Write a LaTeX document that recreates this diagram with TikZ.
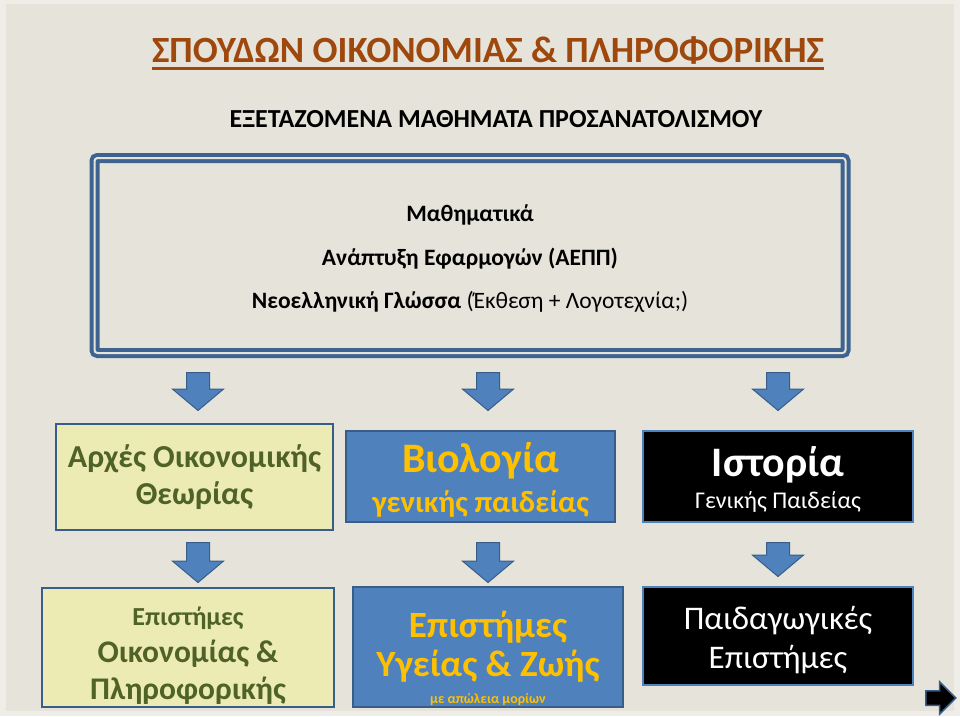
\documentclass[tikz,border=0pt]{standalone}
\usepackage{fontspec}
\setmainfont{Carlito}
\usetikzlibrary{positioning,shapes.arrows}
\definecolor{PageBg}{RGB}{230,228,218}
\definecolor{PageEdge}{RGB}{238,237,231}
\definecolor{TitleBrown}{RGB}{158,72,14}
\definecolor{FrameBlue}{RGB}{63,99,144}
\definecolor{BoxEdge}{RGB}{56,93,138}
\definecolor{BoxBlue}{RGB}{79,129,189}
\definecolor{BoxYellow}{RGB}{236,235,180}
\definecolor{OliveText}{RGB}{79,98,40}
\definecolor{GoldText}{RGB}{255,192,0}

\newcommand{\fs}[2]{\fontsize{#1}{#2}\selectfont}
\newcommand{\lift}[1]{\rule{0pt}{#1}}
\newsavebox{\ulbox}
\newcommand{\titleul}[1]{\sbox{\ulbox}{#1}\rlap{\rule[-7.5pt]{\wd\ulbox}{3pt}}\usebox{\ulbox}}

\begin{document}
\begin{tikzpicture}[
  x=1pt, y=-1pt,
  frame/.style={
    rectangle,
    rounded corners=3pt,
    draw=FrameBlue,
    double=PageBg,
    line width=4pt,
    double distance=2pt,
    align=center,
    inner sep=0pt
  },
  course/.style={
    rectangle,
    draw=BoxEdge,
    line width=2.5pt,
    align=center,
    inner sep=0pt
  },
  econ/.style={course, fill=BoxYellow, text=OliveText},
  bio/.style={course, fill=BoxBlue, text=GoldText},
  hist/.style={course, draw=BoxBlue, fill=black, text=white},
  down/.style={
    single arrow,
    shape border rotate=270,
    anchor=tail,
    draw=BoxEdge,
    fill=BoxBlue,
    line width=1pt,
    minimum width=50pt,
    minimum height=38pt,
    single arrow head extend=14pt,
    single arrow tip angle=100,
    inner xsep=11pt,
    inner ysep=2pt
  },
  navarrow/.style={
    single arrow,
    anchor=tail,
    draw=BoxEdge,
    fill=black,
    line width=1.5pt,
    minimum width=31pt,
    minimum height=30pt,
    single arrow head extend=9pt,
    inner xsep=2pt,
    inner ysep=6.5pt
  }
]
\useasboundingbox (0,0) rectangle (960,716);
\fill[PageEdge] (0,0) rectangle (960,716);
\fill[PageBg] (6,4) rectangle (954,711);

% headings
\node[anchor=base, text=TitleBrown, font=\fs{37}{40}\bfseries] (title) at (488,62)
  {\titleul{ΣΠΟΥΔΩΝ ΟΙΚΟΝΟΜΙΑΣ \& ΠΛΗΡΟΦΟΡΙΚΗΣ}};
\node[anchor=base, font=\fs{26}{30}\bfseries] (subtitle) at (496,127)
  {ΕΞΕΤΑΖΟΜΕΝΑ ΜΑΘΗΜΑΤΑ ΠΡΟΣΑΝΑΤΟΛΙΣΜΟΥ};

% common subjects
\node[frame, minimum width=751pt, minimum height=195pt, font=\fs{23.5}{43.5}] (core) at (470,255.5)
  {\lift{23pt}\textbf{Μαθηματικά}\\
   \textbf{Ανάπτυξη Εφαρμογών (ΑΕΠΠ)}\\
   \textbf{Νεοελληνική Γλώσσα} (Έκθεση + Λογοτεχνία;)};

% fourth subject
\node[down] (d1) at (198,372) {};
\node[down] (d2) at (488,372) {};
\node[down] (d3) at (778,372) {};

\node[econ, minimum width=277pt, minimum height=106pt, font=\fs{32}{37}\bfseries] (theory) at (194.5,477)
  {Αρχές Οικονομικής\\Θεωρίας};
\node[bio, minimum width=269pt, minimum height=91pt, font=\fs{30}{40}\bfseries] (biology) at (480.5,476.5)
  {\fs{42}{40}\lift{36pt}Βιολογία\\\fs{30.7}{40}γενικής παιδείας};
\node[hist, minimum width=270pt, minimum height=91pt, font=\fs{24}{32}] (history) at (778,476.5)
  {\fs{42}{32}\bfseries\lift{36pt}Ιστορία\\\fs{24}{32}Γενικής Παιδείας};

% faculties
\node[down, minimum height=40pt] (e1) at (198,542) {};
\node[down, minimum height=40pt] (e2) at (488,542) {};
\node[down, minimum height=34pt] (e3) at (778,542) {};

\node[econ, minimum width=292pt, minimum height=119pt, font=\fs{31.5}{37}\bfseries] (economics) at (188,647.5)
  {\fs{26}{37}\lift{34pt}Επιστήμες\\Οικονομίας \&\\Πληροφορικής};
\node[bio, minimum width=270pt, minimum height=120pt, font=\fs{37}{39}\bfseries] (health) at (488,647)
  {\lift{50pt}Επιστήμες\\Υγείας \& Ζωής\\[-12pt]\fs{14}{39}με απώλεια μορίων};
\node[hist, minimum width=270pt, minimum height=98pt, font=\fs{33}{39}] (pedagogy) at (778,636)
  {\lift{31pt}Παιδαγωγικές\\Επιστήμες};

\node[navarrow] (next) at (925,698) {};
\end{tikzpicture}
\end{document}
